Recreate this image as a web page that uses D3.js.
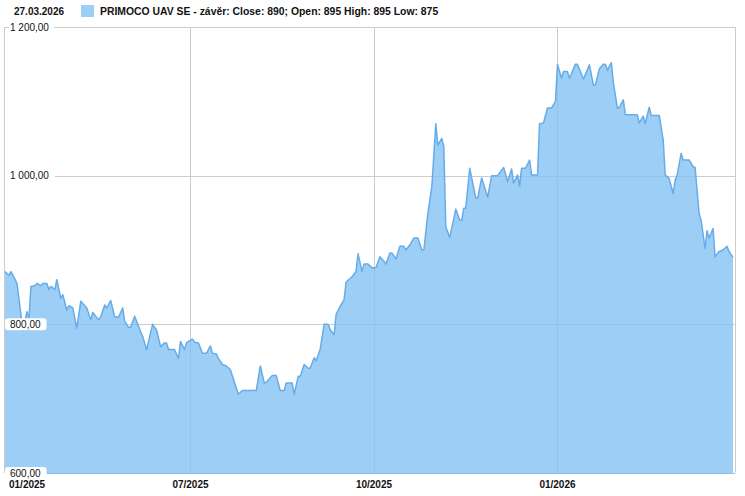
<!DOCTYPE html>
<html>
<head>
<meta charset="utf-8">
<script src="https://cdn.jsdelivr.net/npm/d3@7"></script>
<style>
  html, body { margin: 0; padding: 0; background: #fff; }
  svg { display: block; font-family: "Liberation Sans", Arial, sans-serif; }
</style>
</head>
<body>
<svg id="chart" width="745" height="496"></svg>
<script>
// ---- data ----
const dates = [
"2025-03-30","2025-04-01","2025-04-02","2025-04-04","2025-04-05","2025-04-08","2025-04-10","2025-04-11","2025-04-12","2025-04-14",
"2025-04-15","2025-04-17","2025-04-18","2025-04-20","2025-04-21","2025-04-22","2025-04-24","2025-04-25","2025-04-27","2025-04-28",
"2025-04-30","2025-05-01","2025-05-03","2025-05-05","2025-05-07","2025-05-10","2025-05-12","2025-05-13","2025-05-16","2025-05-17",
"2025-05-19","2025-05-20","2025-05-22","2025-05-24","2025-05-26","2025-05-28","2025-05-29","2025-05-31","2025-06-01","2025-06-03",
"2025-06-06","2025-06-07","2025-06-09","2025-06-12","2025-06-14","2025-06-16","2025-06-18","2025-06-19","2025-06-20","2025-06-23",
"2025-06-25","2025-06-26","2025-06-28","2025-06-29","2025-06-30","2025-07-02","2025-07-03","2025-07-05","2025-07-07","2025-07-09",
"2025-07-11","2025-07-12","2025-07-14","2025-07-15","2025-07-17","2025-07-19","2025-07-21","2025-07-24","2025-07-25","2025-07-27",
"2025-07-29","2025-08-03","2025-08-05","2025-08-07","2025-08-08","2025-08-11","2025-08-13","2025-08-15","2025-08-17","2025-08-18",
"2025-08-21","2025-08-22","2025-08-24","2025-08-25","2025-08-27","2025-08-29","2025-08-30","2025-09-01","2025-09-02","2025-09-04",
"2025-09-06","2025-09-08","2025-09-09","2025-09-11","2025-09-12","2025-09-14","2025-09-16","2025-09-17","2025-09-20","2025-09-22",
"2025-09-23","2025-09-25","2025-09-26","2025-09-28","2025-09-30","2025-10-02","2025-10-04","2025-10-06","2025-10-07","2025-10-09",
"2025-10-10","2025-10-12","2025-10-14","2025-10-16","2025-10-17","2025-10-19","2025-10-21","2025-10-23","2025-10-25","2025-10-26",
"2025-10-28","2025-10-30","2025-11-01","2025-11-02","2025-11-04","2025-11-05","2025-11-06","2025-11-08","2025-11-11","2025-11-13",
"2025-11-14","2025-11-15","2025-11-16","2025-11-18","2025-11-21","2025-11-22","2025-11-24","2025-11-27","2025-11-29","2025-12-02",
"2025-12-05","2025-12-07","2025-12-09","2025-12-10","2025-12-12","2025-12-13","2025-12-14","2025-12-16","2025-12-18","2025-12-19",
"2025-12-22","2025-12-23","2025-12-25","2025-12-27","2025-12-29","2025-12-31","2026-01-01","2026-01-03","2026-01-04","2026-01-06",
"2026-01-07","2026-01-10","2026-01-11","2026-01-14","2026-01-17","2026-01-19","2026-01-20","2026-01-22","2026-01-24","2026-01-25",
"2026-01-26","2026-01-28","2026-01-29","2026-01-31","2026-02-01","2026-02-03","2026-02-04","2026-02-10","2026-02-11","2026-02-13",
"2026-02-14","2026-02-16","2026-02-17","2026-02-21","2026-02-23","2026-02-24","2026-02-26","2026-02-28","2026-03-01","2026-03-02",
"2026-03-04","2026-03-05","2026-03-08","2026-03-10","2026-03-11","2026-03-13","2026-03-14","2026-03-16","2026-03-17","2026-03-18",
"2026-03-20","2026-03-21","2026-03-23","2026-03-25","2026-03-27","2026-03-28","2026-03-30"
];
const closes = [
871,866,871,861,855,792,817,808,851,852,
855,852,855,855,847,851,847,860,835,840,
819,825,822,795,831,822,806,816,806,810,
826,822,832,810,810,822,804,796,796,811,
790,784,766,800,792,770,775,775,766,766,
754,777,766,775,777,780,776,775,761,761,
771,761,760,754,746,744,739,714,706,711,
711,711,744,721,722,731,731,711,711,721,
721,706,730,730,746,741,741,755,751,766,
800,800,793,786,813,824,833,857,864,871,
895,871,881,881,876,876,891,885,881,896,
896,888,905,905,900,907,916,916,900,900,
949,985,1070,1041,1050,1039,931,917,955,940,
940,956,956,1010,970,970,997,971,1000,1000,
1011,992,1009,990,1001,986,1010,1010,1021,1001,
1001,1070,1071,1091,1091,1100,1150,1131,1140,1140,
1131,1150,1150,1130,1149,1122,1122,1144,1150,1150,
1142,1152,1126,1091,1092,1102,1082,1082,1071,1080,
1070,1092,1081,1081,1048,1001,996,976,994,1001,
1030,1021,1021,1012,1011,949,940,902,926,916,
929,891,898,900,905,898,890
];
const yTicks = [600, 800, 1000, 1200];
const xTickDates = ["2025-03-30", "2025-07-01", "2025-10-01", "2026-01-01"];
const xTickLabels = ["01/2025", "07/2025", "10/2025", "01/2026"];
const xDomain = ["2025-03-30", "2026-03-31"];
const headerDate = "27.03.2026";
const legendText = "PRIMOCO UAV SE - závěr: Close: 890; Open: 895 High: 895 Low: 875";

// ---- chart ----
const parse = d3.utcParse("%Y-%m-%d");
const data = dates.map((d, i) => ({ date: parse(d), v: closes[i] }));

const L = 5, R = 735, T = 27, B = 473;
const x = d3.scaleUtc().domain(xDomain.map(parse)).range([L, R]);
const y = d3.scaleLinear().domain([600, 1200]).range([B, T]);

const svg = d3.select("#chart");
const fmt = d3.formatLocale({ decimal: ",", thousands: " ", grouping: [3], currency: ["", ""] }).format(",.2f");

const gridColor = "#cccccc";

// horizontal gridlines
svg.append("g").selectAll("line").data(yTicks.filter(t => t > 600)).join("line")
  .attr("x1", L).attr("x2", R)
  .attr("y1", d => Math.round(y(d)) + 0.5).attr("y2", d => Math.round(y(d)) + 0.5)
  .attr("stroke", gridColor).attr("stroke-width", 1);

// vertical gridlines
svg.append("g").selectAll("line").data(xTickDates.slice(1)).join("line")
  .attr("x1", d => Math.round(x(parse(d))) + 0.5).attr("x2", d => Math.round(x(parse(d))) + 0.5)
  .attr("y1", T).attr("y2", B)
  .attr("stroke", gridColor).attr("stroke-width", 1);

// borders (left, right)
svg.append("line").attr("x1", L - 0.5).attr("x2", L - 0.5).attr("y1", T).attr("y2", B)
  .attr("stroke", gridColor);
svg.append("line").attr("x1", R + 0.5).attr("x2", R + 0.5).attr("y1", T).attr("y2", B)
  .attr("stroke", gridColor);

// area
const area = d3.area().x(d => x(d.date)).y0(y(600)).y1(d => y(d.v));
svg.append("path").datum(data)
  .attr("d", area)
  .attr("fill", "rgb(128,192,244)").attr("fill-opacity", 0.78);

const line = d3.line().x(d => x(d.date)).y(d => y(d.v));
svg.append("path").datum(data)
  .attr("d", line)
  .attr("fill", "none").attr("stroke", "#66ace9").attr("stroke-width", 1.5)
  .attr("stroke-linejoin", "round");

// bottom axis line
svg.append("line").attr("x1", L).attr("x2", R).attr("y1", B + 0.5).attr("y2", B + 0.5)
  .attr("stroke", "#8cc2ee").attr("stroke-width", 1);

// y labels with white boxes
const yl = svg.append("g").attr("font-size", 10).attr("fill", "#111");
yTicks.forEach(t => {
  const g = yl.append("g");
  const txt = g.append("text")
    .attr("x", 10).attr("y", y(t)).attr("dy", "0.35em")
    .attr("fill", "#111")
    .text(fmt(t));
  const w = txt.node().getComputedTextLength();
  g.insert("rect", "text")
    .attr("x", L).attr("y", y(t) - 6).attr("width", w + 11).attr("height", 12)
    .attr("rx", 3).attr("fill", "#fff");
});
// top border drawn after boxes so it shows around the label like the reference
svg.append("line").attr("x1", L).attr("x2", 9).attr("y1", T + 0.5).attr("y2", T + 0.5).attr("stroke", gridColor);
svg.append("line").attr("x1", 54).attr("x2", R + 0.5).attr("y1", T + 0.5).attr("y2", T + 0.5).attr("stroke", gridColor);

// x labels
svg.append("g").selectAll("text").data(xTickDates).join("text")
  .attr("x", (d, i) => i === 0 ? 9 : x(parse(d)))
  .attr("y", 488)
  .attr("text-anchor", (d, i) => i === 0 ? "start" : "middle")
  .attr("font-size", 10).attr("font-weight", "bold").attr("fill", "#111")
  .text((d, i) => xTickLabels[i]);

// header
svg.append("text").attr("x", 14).attr("y", 15)
  .attr("font-size", 10).attr("font-weight", "bold").attr("fill", "#111")
  .text(headerDate);
svg.append("rect").attr("x", 81).attr("y", 5).attr("width", 13).attr("height", 12)
  .attr("fill", "#9ccff6");
svg.append("text").attr("x", 100).attr("y", 15)
  .attr("font-size", 10.4).attr("font-weight", "bold").attr("fill", "#111")
  .text(legendText);
</script>
</body>
</html>
